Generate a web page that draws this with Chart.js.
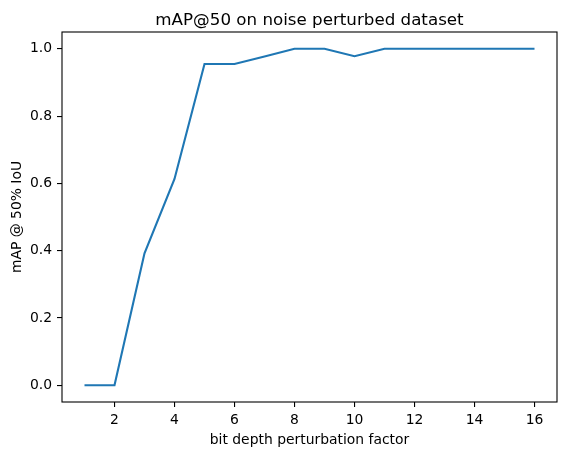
<!DOCTYPE html>
<html>
<head>
<meta charset="utf-8">
<script src="https://cdn.jsdelivr.net/npm/chart.js@4"></script>
<style>
html,body{margin:0;padding:0;background:#fff;}
#c{display:block;}
</style>
</head>
<body>
<canvas id="c" width="567" height="455"></canvas>
<script>
const chartTitle = "mAP@50 on noise perturbed dataset";
const xLabel = "bit depth perturbation factor";
const yLabel = "mAP @ 50% IoU";
const xValues = [1, 2, 3, 4, 5, 6, 7, 8, 9, 10, 11, 12, 13, 14, 15, 16];
const mapValues = [0, 0, 0.392, 0.613, 0.955, 0.955, 0.977, 1.0, 1.0, 0.978, 1.0, 1.0, 1.0, 1.0, 1.0, 1.0];
const xTicks = [2, 4, 6, 8, 10, 12, 14, 16];
const yTicks = [0, 0.2, 0.4, 0.6, 0.8, 1.0];

const FONT = "'DejaVu Sans', sans-serif";

const framePlugin = {
  id: 'frame',
  afterDraw(chart) {
    const {ctx, chartArea} = chart;
    ctx.save();
    ctx.strokeStyle = '#000';
    ctx.lineWidth = 1.1;
    ctx.strokeRect(chartArea.left, chartArea.top, chartArea.right - chartArea.left, chartArea.bottom - chartArea.top);
    ctx.fillStyle = '#000';
    ctx.font = '16.7px ' + FONT;
    ctx.textAlign = 'center';
    ctx.textBaseline = 'alphabetic';
    ctx.fillText(chartTitle, (chartArea.left + chartArea.right) / 2, 25);
    ctx.restore();
  }
};

new Chart(document.getElementById('c'), {
  type: 'line',
  data: {
    datasets: [{
      data: xValues.map((x, i) => ({x: x, y: mapValues[i]})),
      borderColor: '#1f77b4',
      borderWidth: 2.1,
      pointRadius: 0,
      tension: 0,
      fill: false
    }]
  },
  options: {
    responsive: false,
    devicePixelRatio: 1,
    animation: false,
    layout: {padding: {left: 0, right: 10, top: 32, bottom: 0}},
    plugins: {legend: {display: false}, tooltip: {enabled: false}, title: {display: false}},
    scales: {
      x: {
        type: 'linear',
        min: 0.25,
        max: 16.75,
        afterBuildTicks: (s) => { s.ticks = xTicks.map(v => ({value: v})); },
        afterFit: (s) => { s.height = 53; },
        grid: {display: true, drawOnChartArea: false, drawTicks: true, tickLength: 5, color: '#000', lineWidth: 1.1},
        border: {display: false},
        ticks: {color: '#000', font: {family: FONT, size: 13.9}, padding: 5, maxRotation: 0, autoSkip: false,
                callback: (v) => String(v)},
        title: {display: true, text: xLabel, color: '#000', font: {family: FONT, size: 13.9}, padding: {top: 0, bottom: 6}}
      },
      y: {
        type: 'linear',
        min: -0.05,
        max: 1.05,
        afterBuildTicks: (s) => { s.ticks = yTicks.map(v => ({value: v})); },
        afterFit: (s) => { s.width = 62; },
        grid: {display: true, drawOnChartArea: false, drawTicks: true, tickLength: 5, color: '#000', lineWidth: 1.1},
        border: {display: false},
        ticks: {color: '#000', font: {family: FONT, size: 13.9}, padding: 5, autoSkip: false,
                callback: (v) => Number(v).toFixed(1)},
        title: {display: true, text: yLabel, color: '#000', font: {family: FONT, size: 13.9}, padding: {top: 9.5, bottom: 0}}
      }
    }
  },
  plugins: [framePlugin]
});
</script>
</body>
</html>
